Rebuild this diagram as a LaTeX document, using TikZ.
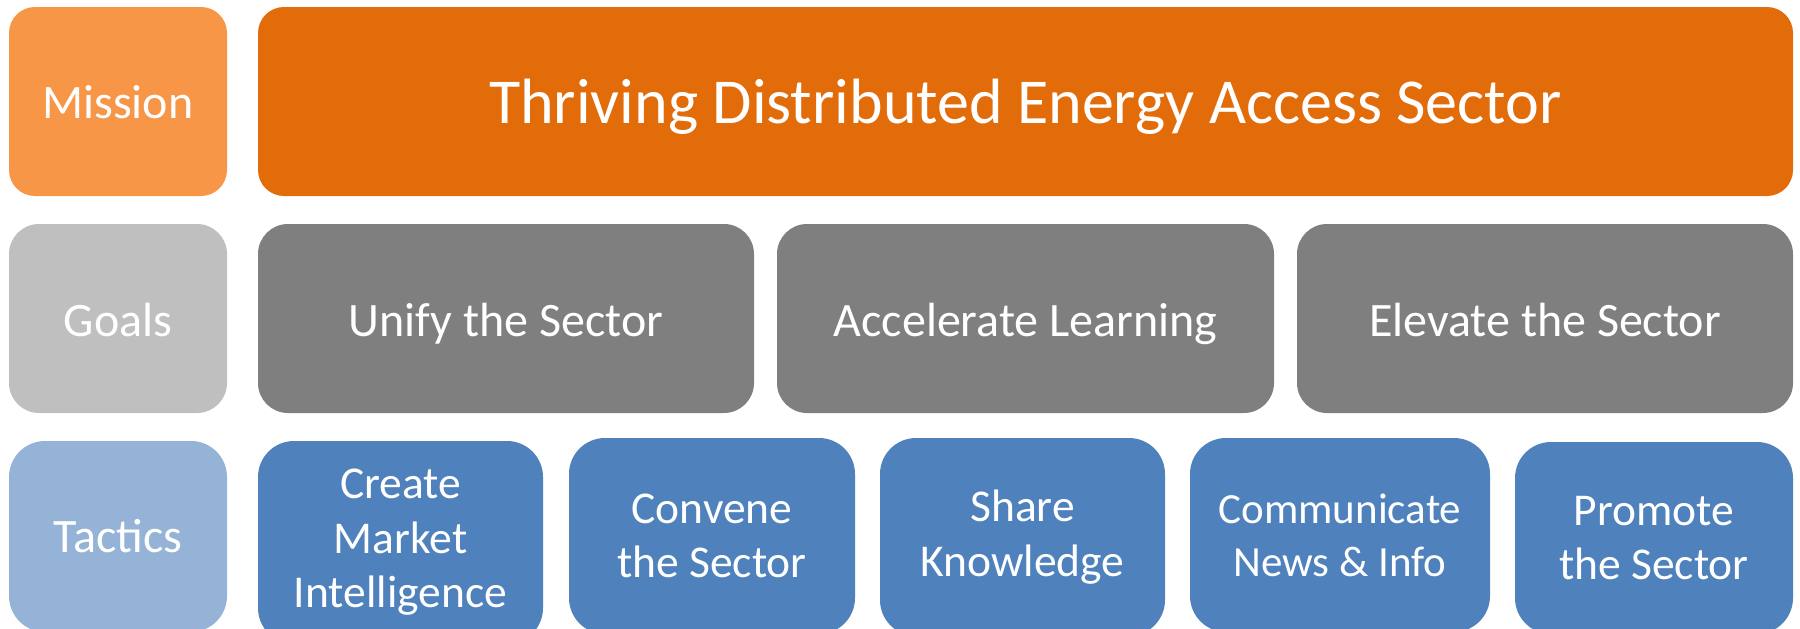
\documentclass[tikz,border=0pt]{standalone}
\usepackage{fontspec}
\setmainfont{Carlito}
\definecolor{misslab}{HTML}{F79646}
\definecolor{missbox}{HTML}{E36C0A}
\definecolor{goallab}{HTML}{BFBFBF}
\definecolor{goalbox}{HTML}{7F7F7F}
\definecolor{tactlab}{HTML}{95B3D7}
\definecolor{tactbox}{HTML}{4F81BD}
\begin{document}
\begin{tikzpicture}[x=1pt,y=-1pt,
  box/.style={rounded corners=#1, text=white, align=center, inner sep=0pt,
    font=\fontsize{48}{56}\selectfont},
  single/.style={text height=#1, text depth=0pt},
  tact/.style={font=\fontsize{45.5}{54.5}\selectfont},
  row1/.style={box=26pt, minimum height=189pt},
  row2/.style={box=30pt, minimum height=189pt, single=36pt},
  row3/.style={box=36pt, minimum height=191pt}]
\useasboundingbox (0,0) rectangle (1800,629);
% Mission row
\node[row1, fill=misslab, minimum width=218pt, single=33pt] (mission) at (118,101.5) {Mission};
\node[row1, fill=missbox, minimum width=1535pt, single=44pt, font=\fontsize{64}{72}\selectfont] (thriving) at (1025.5,101.5) {Thriving Distributed Energy Access Sector};
% Goals row
\node[row2, fill=goallab, minimum width=218pt] (goals) at (118,318.5) {Goals};
\node[row2, fill=goalbox, minimum width=496pt] (unify) at (506,318.5) {Unify the Sector};
\node[row2, fill=goalbox, minimum width=497pt] (accel) at (1025.5,318.5) {Accelerate Learning};
\node[row2, fill=goalbox, minimum width=496pt] (elevate) at (1545,318.5) {Elevate the Sector};
% Tactics row
\node[row3, fill=tactlab, minimum width=218pt, single=32pt] (tactics) at (118,536.5) {Tactics};
\node[row3, tact, fill=tactbox, minimum width=285pt, minimum height=203pt] (create) at (400.5,542.5) {Create\\Market\\Intelligence};
\node[row3, tact, fill=tactbox, minimum width=286pt, minimum height=196pt] (convene) at (712,536) {Convene\\the Sector};
\node[row3, tact, fill=tactbox, minimum width=285pt, minimum height=198pt] (share) at (1022.5,537) {Share\\Knowledge};
\node[row3, tact, fill=tactbox, minimum width=300pt, minimum height=194pt, font=\fontsize{43}{53}\selectfont] (commun) at (1340,535) {Communicate\\News \& Info};
\node[row3, tact, fill=tactbox, minimum width=278pt, minimum height=192pt] (promote) at (1654,538) {Promote\\the Sector};
\end{tikzpicture}
\end{document}
